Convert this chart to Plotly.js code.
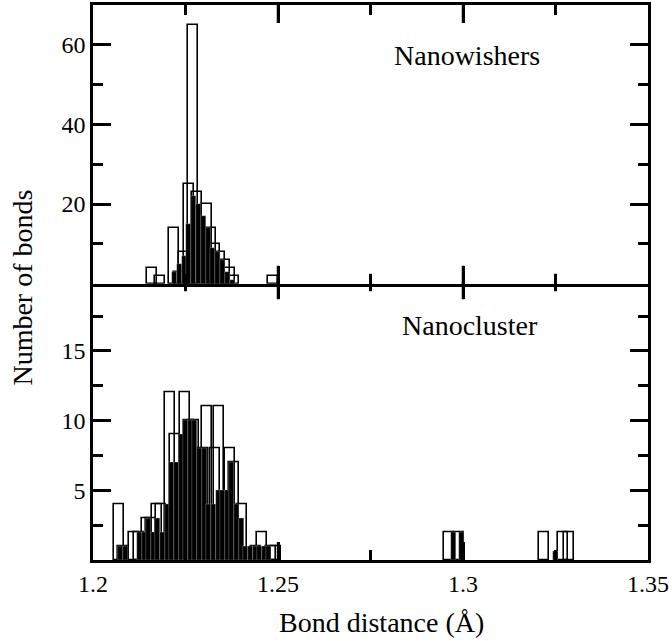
<!DOCTYPE html>
<html>
<head>
<meta charset="utf-8">
<script src="https://cdn.plot.ly/plotly-3.0.1.min.js"></script>
<style>html,body{margin:0;padding:0;background:#fff;}#chart{width:672px;height:641px;}</style>
</head>
<body>
<div id="chart"></div>
<script>
// ---- data ----
const topOpenX = [1.2160, 1.2180, 1.2220, 1.2232, 1.2247, 1.2259, 1.2271, 1.2282, 1.2307, 1.2318, 1.2330, 1.2344, 1.2357, 1.2370, 1.2382, 1.2487];
const topOpenY = [4, 2, 14, 3, 8, 25, 65, 23, 20, 14, 10, 8, 6, 4, 2, 2];

const topBlackX = [1.2220, 1.2233, 1.2246, 1.2259, 1.2272, 1.2285, 1.2298, 1.2311, 1.2324, 1.2337, 1.2350, 1.2363, 1.2376];
const topBlackY = [3, 5, 7, 15, 22, 20, 17, 14, 9, 8, 6, 3, 1];

const botOpenX = [1.2069, 1.2082, 1.2111, 1.2124, 1.2146, 1.2158, 1.2172, 1.2184, 1.2208, 1.2222, 1.2249, 1.2260, 1.2272, 1.2298, 1.2308, 1.2330, 1.2340, 1.2370, 1.2382, 1.2402, 1.2440, 1.2457, 1.2480, 1.2495, 1.2962, 1.2988, 1.3220, 1.3269, 1.3287];
const botOpenY = [4, 1, 2, 2, 3, 3, 4, 4, 12, 9, 12, 10, 10, 8, 11, 8, 11, 8, 7, 4, 1, 2, 1, 1, 2, 2, 2, 2, 2];

const botBlackX = [1.2075, 1.2088, 1.2125, 1.2138, 1.2150, 1.2163, 1.2175, 1.2188, 1.2200, 1.2213, 1.2225, 1.2238, 1.2250, 1.2263, 1.2275, 1.2288, 1.2300, 1.2313, 1.2325, 1.2338, 1.2350, 1.2363, 1.2375, 1.2388, 1.2400, 1.2413, 1.2425, 1.2438, 1.2450, 1.2463, 1.2475, 1.2973, 1.2996, 1.3250];
const botBlackY = [1, 1, 2, 2, 3, 2, 3, 2, 4, 7, 7, 9, 10, 10, 10, 8, 8, 4, 4, 5, 5, 5, 7, 4, 3, 1, 1, 1, 1, 1, 1, 2, 2, 0.6];

const xRange = [1.2, 1.35];
const topRange = [0, 70];
const botRange = [0, 20];
const xTickVals = [1.2, 1.25, 1.3, 1.35];
const xTickText = ['1.2', '1.25', '1.3', '1.35'];
const xMinorVals = [1.225, 1.275, 1.325];
const topTickVals = [20, 40, 60];
const topMinorVals = [10, 30, 50];
const botTickVals = [5, 10, 15];
const botMinorVals = [2.5, 7.5, 12.5, 17.5];

const labelTop = 'Nanowishers';
const labelBot = 'Nanocluster';
const xTitle = 'Bond distance (Å)';
const yTitle = 'Number of bonds';

// ---- styling ----
const FONT = 'Liberation Serif, Times New Roman, serif';
const openStyle = {color: 'rgba(0,0,0,0)', line: {color: '#000', width: 1.6}};
const blackStyle = {color: '#000', line: {color: 'rgba(200,200,200,0.6)', width: 0.5}};
const MAJOR_LEN = 18, MINOR_LEN = 10, TICK_W = 2.5;

const traces = [
  {type: 'bar', x: topOpenX, y: topOpenY, width: 0.0027, marker: openStyle, xaxis: 'x2', yaxis: 'y2', hoverinfo: 'skip'},
  {type: 'bar', x: topBlackX, y: topBlackY, width: 0.00135, marker: blackStyle, xaxis: 'x2', yaxis: 'y2', hoverinfo: 'skip'},
  {type: 'bar', x: botOpenX, y: botOpenY, width: 0.0027, marker: openStyle, xaxis: 'x', yaxis: 'y', hoverinfo: 'skip'},
  {type: 'bar', x: botBlackX, y: botBlackY, width: 0.00135, marker: blackStyle, xaxis: 'x', yaxis: 'y', hoverinfo: 'skip'}
];

function axisBase() {
  return {
    showline: true, linecolor: '#000', linewidth: 2.5,
    ticks: 'inside', ticklen: MAJOR_LEN, tickwidth: TICK_W, tickcolor: '#000',
    mirror: 'ticks', showgrid: false, zeroline: false,
    tickfont: {family: FONT, size: 24, color: '#000'}
  };
}
function minorTicks(vals) {
  return {tickmode: 'array', tickvals: vals, ticks: 'inside', ticklen: MINOR_LEN, tickwidth: TICK_W, tickcolor: '#000'};
}

// x-axis tick marks on all four horizontal edges, placed through the axes' own scales
function xTickMarks(vals, len) {
  const edges = [
    ['y', botRange[0], 1], ['y', botRange[1], -1],
    ['y2', topRange[0], 1], ['y2', topRange[1], -1]
  ];
  const out = [];
  vals.filter(v => v > xRange[0] && v < xRange[1]).forEach(v => {
    edges.forEach(([ref, anchor, dir]) => {
      out.push({type: 'line', xref: ref === 'y' ? 'x' : 'x2', yref: ref, x0: v, x1: v,
        ysizemode: 'pixel', yanchor: anchor, y0: 0, y1: dir * len,
        line: {color: '#000', width: TICK_W}, layer: 'above'});
    });
  });
  return out;
}

const xaxis = Object.assign(axisBase(), {
  domain: [0, 1], range: xRange, anchor: 'y',
  tickmode: 'array', tickvals: xTickVals, ticktext: xTickText,
  minor: minorTicks(xMinorVals)
});
const xaxis2 = Object.assign(axisBase(), {
  domain: [0, 1], range: xRange, anchor: 'y2', matches: 'x', showticklabels: false,
  tickmode: 'array', tickvals: xTickVals,
  minor: minorTicks(xMinorVals)
});
const yaxis = Object.assign(axisBase(), {
  domain: [0, 0.5022], range: botRange, anchor: 'x',
  tickmode: 'array', tickvals: botTickVals,
  minor: minorTicks(botMinorVals)
});
const yaxis2 = Object.assign(axisBase(), {
  domain: [0.4978, 1], range: topRange, anchor: 'x2',
  tickmode: 'array', tickvals: topTickVals,
  minor: minorTicks(topMinorVals)
});

const layout = {
  width: 672, height: 641,
  margin: {l: 93, r: 24, t: 5, b: 81},
  paper_bgcolor: '#fff', plot_bgcolor: '#fff',
  showlegend: false, barmode: 'overlay', bargap: 0,
  xaxis: xaxis, xaxis2: xaxis2, yaxis: yaxis, yaxis2: yaxis2,
  shapes: xTickMarks(xTickVals, MAJOR_LEN).concat(xTickMarks(xMinorVals, MINOR_LEN)),
  annotations: [
    {text: labelTop, xref: 'x2 domain', yref: 'y2 domain', x: 0.674, y: 0.82, xanchor: 'center', yanchor: 'middle', showarrow: false,
     font: {family: FONT, size: 28, color: '#000'}},
    {text: labelBot, xref: 'x domain', yref: 'y domain', x: 0.679, y: 0.841, xanchor: 'center', yanchor: 'middle', showarrow: false,
     font: {family: FONT, size: 28, color: '#000'}},
    {text: yTitle, xref: 'paper', yref: 'paper', x: -0.127, y: 0.49, xanchor: 'center', yanchor: 'middle', textangle: -90, showarrow: false,
     font: {family: FONT, size: 28, color: '#000'}},
    {text: xTitle, xref: 'paper', yref: 'paper', x: 0.52, y: -0.112, xanchor: 'center', yanchor: 'middle', showarrow: false,
     font: {family: FONT, size: 28, color: '#000'}}
  ]
};

Plotly.newPlot('chart', traces, layout, {displayModeBar: false});
</script>
</body>
</html>
